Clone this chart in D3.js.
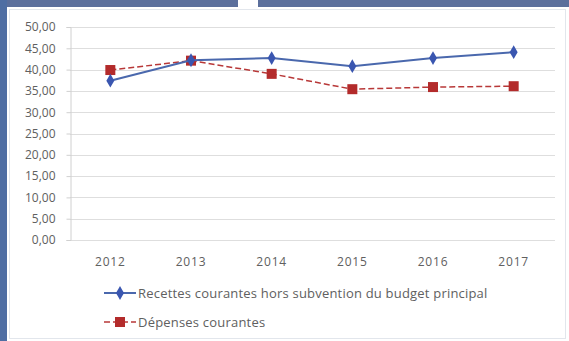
<!DOCTYPE html>
<html>
<head>
<meta charset="utf-8">
<script src="https://cdn.jsdelivr.net/npm/d3@7/dist/d3.min.js"></script>
<style>
  html, body { margin: 0; padding: 0; background: #fff; }
  svg { display: block; }
  text { font-family: "Open Sans", "Noto Sans", sans-serif; fill: #606060; }
</style>
</head>
<body>
<svg id="chart" width="569" height="341"></svg>
<script>
// Series data (ratio per year)
const years = ["2012", "2013", "2014", "2015", "2016", "2017"];
const recettes = [37.4, 42.2, 42.7, 40.8, 42.7, 44.1];
const depenses = [39.9, 42.1, 39.0, 35.4, 35.9, 36.1];
const yTicks = [0, 5, 10, 15, 20, 25, 30, 35, 40, 45, 50];
const seriesNames = ["Recettes courantes hors subvention du budget principal", "Dépenses courantes"];

const svg = d3.select("#chart");
const W = 569, H = 341;

// Frame: blue bands on the top and left edges, light inner border
svg.append("rect").attr("x", 0).attr("y", 0).attr("width", W).attr("height", H).attr("fill", "#fff");
svg.append("rect").attr("x", 0).attr("y", 0).attr("width", 238).attr("height", 7).attr("fill", "#5b6f9c");
svg.append("rect").attr("x", 258).attr("y", 0).attr("width", W - 258).attr("height", 7).attr("fill", "#5b6f9c");
svg.append("rect").attr("x", 0).attr("y", 0).attr("width", 7).attr("height", H).attr("fill", "#4f6ea3");
svg.append("rect").attr("x", 9.5).attr("y", 9.5).attr("width", 556).attr("height", 329)
  .attr("fill", "none").attr("stroke", "#e2e6ec").attr("stroke-width", 1);

const x = d3.scaleBand().domain(years).range([70, 554]);
const y = d3.scaleLinear().domain([0, 50]).range([240, 27]);

// Horizontal gridlines
svg.append("g").selectAll("line").data(yTicks).join("line")
  .attr("x1", 70).attr("x2", 555)
  .attr("y1", d => Math.round(y(d)) + 0.5).attr("y2", d => Math.round(y(d)) + 0.5)
  .attr("stroke", "#dedede").attr("stroke-width", 1);

// Y axis
const fmt = d => d.toFixed(2).replace(".", ",");
const yAxis = svg.append("g").attr("transform", "translate(70.5,0)")
  .call(d3.axisLeft(y).tickValues(yTicks).tickFormat(fmt).tickSize(4).tickPadding(11));
yAxis.select(".domain").attr("stroke", "#d0d0d0");
yAxis.selectAll(".tick line").attr("stroke", "#d0d0d0");
yAxis.selectAll("text").style("font-size", "12px").attr("fill", "#606060");

// X axis labels
const xAxis = svg.append("g").attr("transform", "translate(0,240)")
  .call(d3.axisBottom(x).tickSize(0).tickPadding(17));
xAxis.select(".domain").remove();
xAxis.selectAll("text").style("font-size", "12px").style("letter-spacing", "0.8px").attr("fill", "#606060");

const line = d3.line().x((d, i) => x(years[i]) + x.bandwidth() / 2).y(d => y(d));

// Dépenses courantes
svg.append("path").datum(depenses).attr("d", line)
  .attr("fill", "none").attr("stroke", "#b83838").attr("stroke-width", 1.5)
  .attr("stroke-dasharray", "6,3");
svg.append("g").selectAll("rect").data(depenses).join("rect")
  .attr("x", (d, i) => x(years[i]) + x.bandwidth() / 2 - 5)
  .attr("y", d => y(d) - 5).attr("width", 10).attr("height", 10)
  .attr("fill", "#b32b2b");

// Recettes courantes
svg.append("path").datum(recettes).attr("d", line)
  .attr("fill", "none").attr("stroke", "#4a68ad").attr("stroke-width", 2);
const diamond = d3.symbol().type(d3.symbolDiamond).size(55);
svg.append("g").selectAll("path").data(recettes).join("path")
  .attr("transform", (d, i) => `translate(${x(years[i]) + x.bandwidth() / 2},${y(d)})`)
  .attr("d", diamond).attr("fill", "#3a56b0");

// Legend
const legend = svg.append("g");
const ly = [293, 322];
legend.append("line").attr("x1", 104).attr("x2", 136).attr("y1", ly[0]).attr("y2", ly[0])
  .attr("stroke", "#4a68ad").attr("stroke-width", 2);
legend.append("path").attr("transform", `translate(120,${ly[0]})`).attr("d", diamond).attr("fill", "#3a56b0");
legend.append("line").attr("x1", 104).attr("x2", 136).attr("y1", ly[1]).attr("y2", ly[1])
  .attr("stroke", "#b83838").attr("stroke-width", 1.5).attr("stroke-dasharray", "6,3");
legend.append("rect").attr("x", 115).attr("y", ly[1] - 5).attr("width", 10).attr("height", 10).attr("fill", "#b32b2b");
legend.selectAll("text").data(seriesNames).join("text")
  .attr("x", 138).attr("y", (d, i) => ly[i]).attr("dy", "0.35em")
  .style("font-size", "13px").style("letter-spacing", "0.2px").text(d => d);
</script>
</body>
</html>
